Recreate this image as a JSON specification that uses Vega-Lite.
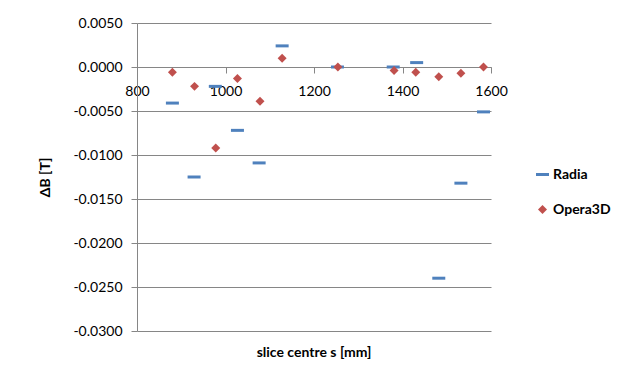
{
  "$schema": "https://vega.github.io/schema/vega-lite/v6.json",
  "width": 354,
  "height": 308,
  "autosize": "none",
  "padding": {"left": 137, "top": 23, "right": 140, "bottom": 45},
  "background": "white",
  "config": {"view": {"stroke": null}, "font": "Lato"},
  "title": {"text": "slice centre s [mm]", "orient": "bottom", "anchor": "middle", "fontSize": 14, "fontWeight": "bold", "font": "Lato", "offset": 8, "color": "#000000"},
  "data": {"values": [
    {"series": "Radia", "s": 880, "dB": -0.0041},
    {"series": "Radia", "s": 929, "dB": -0.0125},
    {"series": "Radia", "s": 977, "dB": -0.0022},
    {"series": "Radia", "s": 1027, "dB": -0.0072},
    {"series": "Radia", "s": 1076, "dB": -0.0109},
    {"series": "Radia", "s": 1128, "dB": 0.0024},
    {"series": "Radia", "s": 1253, "dB": 0.0},
    {"series": "Radia", "s": 1379, "dB": 0.0},
    {"series": "Radia", "s": 1432, "dB": 0.0005},
    {"series": "Radia", "s": 1482, "dB": -0.0240},
    {"series": "Radia", "s": 1532, "dB": -0.0132},
    {"series": "Radia", "s": 1583, "dB": -0.0051},
    {"series": "Opera3D", "s": 880, "dB": -0.0006},
    {"series": "Opera3D", "s": 930, "dB": -0.0022},
    {"series": "Opera3D", "s": 978, "dB": -0.0092},
    {"series": "Opera3D", "s": 1027, "dB": -0.0013},
    {"series": "Opera3D", "s": 1078, "dB": -0.0039},
    {"series": "Opera3D", "s": 1128, "dB": 0.0010},
    {"series": "Opera3D", "s": 1254, "dB": 0.0},
    {"series": "Opera3D", "s": 1381, "dB": -0.0004},
    {"series": "Opera3D", "s": 1430, "dB": -0.0006},
    {"series": "Opera3D", "s": 1482, "dB": -0.0011},
    {"series": "Opera3D", "s": 1532, "dB": -0.0007},
    {"series": "Opera3D", "s": 1583, "dB": 0.0}
  ]},
  "mark": {"type": "point", "filled": true, "size": 169, "opacity": 1},
  "encoding": {
    "x": {
      "field": "s", "type": "quantitative",
      "scale": {"domain": [800, 1600], "nice": false, "zero": false},
      "axis": {"orient": "bottom", "offset": -264, "values": [800, 1000, 1200, 1400, 1600], "format": "d", "grid": false, "title": null,
        "domainColor": "#868686", "tickColor": "#868686", "tickSize": 6, "labelPadding": 11,
        "labelFontSize": 14, "labelColor": "#000000", "labelFlush": false, "labelFont": "Lato"}
    },
    "y": {
      "field": "dB", "type": "quantitative",
      "scale": {"domain": [-0.03, 0.005], "nice": false, "zero": false},
      "axis": {"values": [0.005, 0, -0.005, -0.01, -0.015, -0.02, -0.025, -0.03],
        "labelExpr": "replace(format(datum.value, '.4f'), '−', '-')",
        "title": "ΔB [T]", "titleFontSize": 14, "titleFontWeight": "bold", "titleColor": "#000000", "titlePadding": 20, "titleFont": "Lato",
        "grid": true, "gridColor": "#868686", "domainColor": "#868686", "tickColor": "#868686", "tickSize": 6, "labelPadding": 9,
        "labelFontSize": 14, "labelColor": "#000000", "labelFont": "Lato"}
    },
    "color": {
      "field": "series", "type": "nominal",
      "scale": {"domain": ["Radia", "Opera3D"], "range": ["#4F81BD", "#C0504D"]},
      "legend": {"title": null, "orient": "none", "legendX": 398, "legendY": 144, "padding": 0, "rowPadding": 20,
        "labelFontSize": 14, "labelFontWeight": "bold", "labelFont": "Lato", "labelColor": "#000000", "symbolSize": 169, "labelOffset": 3}
    },
    "shape": {
      "field": "series", "type": "nominal",
      "scale": {"domain": ["Radia", "Opera3D"], "range": ["M-1,-0.23H1V0.23H-1Z", "M0,-0.69L0.69,0L0,0.69L-0.69,0Z"]}
    }
  }
}
